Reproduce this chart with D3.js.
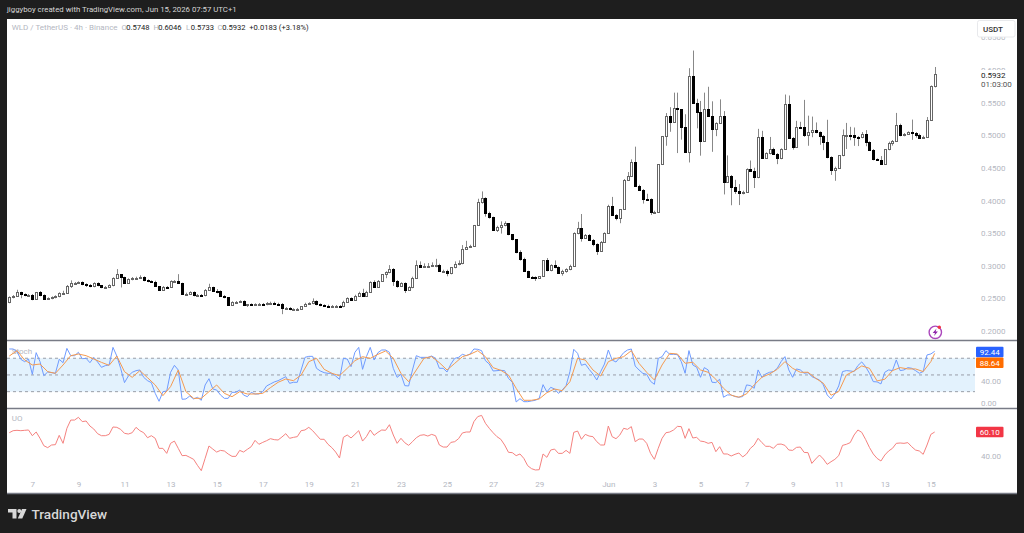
<!DOCTYPE html>
<html>
<head>
<meta charset="utf-8">
<script src="https://cdn.jsdelivr.net/npm/d3@7/dist/d3.min.js"></script>
<style>
html,body{margin:0;padding:0;background:#1e1e1e;overflow:hidden}
svg{display:block}
text{font-family:Roboto,"Liberation Sans",sans-serif}
</style>
</head>
<body>
<svg id="chart" width="1024" height="533"></svg>
<script>
// WLD / TetherUS, 4h candles: closes, with wick lengths counted in ticks of wickTick.
const firstOpen = 0.2440;
const wickTick = 0.0015;
const closes = [
.2516,.2536,.2602,.2562,.2547,.2552,.2486,.2598,.2547,.2495,
.2501,.2516,.2532,.2578,.2587,.2690,.2731,.2736,.2746,.2716,
.2705,.2685,.2731,.2700,.2670,.2674,.2700,.2808,.2874,.2832,
.2740,.2792,.2812,.2817,.2823,.2777,.2762,.2756,.2690,.2628,
.2674,.2670,.2762,.2766,.2740,.2567,.2572,.2593,.2547,.2552,
.2547,.2628,.2679,.2613,.2608,.2536,.2516,.2403,.2440,.2444,
.2455,.2398,.2409,.2398,.2409,.2414,.2409,.2429,.2434,.2418,
.2414,.2348,.2352,.2333,.2333,.2337,.2383,.2418,.2425,.2455,
.2409,.2394,.2388,.2379,.2383,.2383,.2379,.2449,.2501,.2475,
.2541,.2587,.2541,.2602,.2746,.2679,.2766,.2869,.2900,.2950,
.2766,.2694,.2731,.2628,.2670,.2817,.3007,.2985,.2992,.2996,
.3007,.3016,.2920,.2924,.2884,.2976,.3022,.3038,.3257,.3292,
.3307,.3625,.3982,.4034,.3813,.3752,.3548,.3598,.3620,.3651,
.3482,.3405,.3206,.3108,.2924,.2828,.2823,.2812,.2843,.3088,
.2930,.3007,.2976,.2893,.2924,.2946,.3001,.3497,.3583,.3430,
.3471,.3395,.3329,.3226,.3364,.3497,.3920,.3778,.3727,.3870,
.4314,.4376,.4585,.4227,.4161,.4028,.4018,.3824,.3828,.4559,
.4989,.5295,.5203,.5413,.5402,.5127,.4748,.5908,.5499,.5361,
.4912,.5398,.5295,.5091,.5183,.5295,.4288,.4376,.4212,.4146,
.4110,.4135,.4478,.4457,.4356,.4978,.4651,.4723,.4794,.4713,
.4647,.4785,.5474,.4958,.4825,.5131,.5122,.5004,.5045,.5076,
.5045,.4989,.4892,.4662,.4467,.4503,.4693,.4999,.5009,.4999,
.4973,.4969,.5019,.4892,.4774,.4631,.4621,.4559,.4785,.4886,
.4912,.5162,.4999,.5019,.5045,.5035,.5009,.4963,.4978,.5234,
.5748,.5932];
const upperWicks = [
1,1,2,0,1,1,1,0,1,1,
1,1,1,1,2,1,3,1,1,1,
1,1,1,1,0,1,1,1,5,0,
0,1,1,1,2,1,1,1,1,0,
1,1,1,1,7,0,1,1,1,1,
1,1,3,0,2,1,1,0,1,1,
1,1,0,1,1,1,1,1,1,1,
1,1,1,1,1,1,0,1,1,3,
1,1,1,1,1,1,1,1,1,1,
1,1,4,1,1,2,1,0,1,4,
1,1,1,1,1,1,5,4,3,3,
3,6,1,1,1,0,3,3,4,6,
1,0,3,7,1,1,0,1,4,2,
0,0,0,2,1,0,1,1,0,0,
2,1,5,1,1,1,1,1,6,14,
1,1,1,1,1,1,1,9,1,0,
1,4,3,16,1,1,5,1,1,0,
0,3,9,16,16,0,13,8,26,4,
11,17,23,15,1,17,5,21,1,7,
7,1,1,9,3,8,6,1,12,1,
1,1,10,9,1,6,5,28,17,14,
8,1,1,23,1,1,0,6,12,8,
8,1,2,4,1,1,1,4,0,1,
1,12,1,1,1,13,1,1,1,3,
1,7];
const lowerWicks = [
1,1,1,4,1,1,1,0,1,1,
1,1,1,1,1,1,2,1,1,1,
2,1,1,1,1,1,1,1,0,11,
1,1,1,2,1,1,1,1,1,1,
1,1,0,1,0,1,1,1,1,1,
1,1,1,1,2,1,1,1,1,1,
1,1,2,1,1,1,1,1,1,1,
1,6,1,1,1,1,1,1,1,1,
1,1,1,1,1,1,1,1,1,1,
1,1,0,1,0,1,1,1,4,1,
5,2,1,3,1,1,1,1,1,1,
1,2,1,1,3,1,1,1,1,1,
1,1,1,2,4,2,1,2,7,1,
1,1,1,2,1,1,1,3,0,1,
1,1,1,1,3,2,1,1,1,4,
1,1,2,4,0,0,0,1,2,5,
1,1,1,0,1,5,1,3,1,0,
1,10,10,0,45,13,0,11,0,17,
15,0,0,23,7,0,13,0,19,3,
12,1,0,0,11,1,1,1,1,1,
6,1,0,0,3,0,0,2,11,5,
1,9,8,1,5,11,0,1,14,5,
9,9,1,4,1,1,1,1,0,1,
3,1,1,1,1,7,3,1,1,1,
1,1];

// Stochastic %K on every candle, %D read on every second candle plus the latest one.
const stochK = [
96.6,96.6,91.8,78,73.8,78.6,51.1,90,73.8,48.7,
55.3,54.1,52.9,78,72,97.7,84.6,84.6,90.6,79.2,
79.8,72,81.6,73.2,63.7,66.7,67.9,99.5,84,61.9,
36.2,48.1,54.7,57.7,58.9,45.7,39.7,36.2,17,2.7,
20,21.2,54.7,67.3,58.9,6.3,6.9,12.2,6.9,9.8,
4.5,32,43.3,24.8,23,14,8,8,18.8,18.8,
23,14,11,18.8,15.8,15.8,20,30.2,33.8,37.4,
39.7,43.3,46.9,35,36.8,36.8,58.9,81.6,83.4,83.4,
61.9,57.1,54.1,52.9,52.9,48.1,42.1,79.8,78.6,64.9,
90.6,99.5,60.1,82.8,99.5,76.8,90,94.8,94.8,90.6,
61.9,45.7,51.1,30.8,30.2,58.9,84.6,81.6,81.6,81.6,
84,79.8,61.9,61.9,55.3,69.6,79.8,81.6,87,84.6,
87.6,96.6,96,93.6,75.6,69.6,57.1,57.7,58.3,57.7,
43.9,36.8,1.5,7.4,2,2,3.3,4.5,8,32.6,
19.4,27.8,24.8,17,23,30.8,55.9,96,88.8,67.3,
69.6,60.1,51.7,40.9,55.9,69.6,94.8,76.8,73.2,81.6,
90,94.8,96.6,66,58.9,52.9,51.1,38.5,33.2,79.8,
82.8,93.6,87,87,86.4,74,53,93.7,68,63.8,
45.8,63.2,59,36.9,36.3,42.3,10,14.1,14.1,11.2,
10,11.2,32.1,30.9,26.1,59,45.8,51.8,54.8,56,
62,74,82.9,59,45.8,60.8,59,53,54.2,47,
44,41,32.1,14.1,7,16,30.3,56,57.8,57.2,
56,66.8,73.4,65,53,38,37.5,33.9,54.8,59,
57.8,76.9,57.8,59,63.2,62,57.8,53,56,85.9,
87.7,92.44];
const stochD = [
84,93.6,76.8,67.9,69.6,55.9,52.9,67.9,84.6,87.6,
84.6,78.6,72.6,67.3,84,55.9,45.7,57.7,45.1,32,
12.8,29,58.9,20,8,8,20,32,17,11,
20,15.8,15.8,17,27.2,36.8,42.7,39.7,49.9,73.8,
79.8,60.1,52.9,48.7,
61.9,75.6,82.8,79.8,87,93,79.8,52.9,37.9,58.9,
79.8,82.8,72,58.9,70.8,82.8,87,93.6,82.8,63.1,
58.3,49.9,26,4.5,4.5,6.9,18.2,24.8,21.8,37.9,
79.8,76.8,58.9,48.1,73.8,79.8,82.8,93.6,70.8,54.7,
40.9,67.9,88.8,87.6,
71,72.8,59,54.8,42.3,26.1,13.6,10,16,32.1,
45.8,51.8,60.2,74,62,54.8,54.8,44,35.1,13.6,
20.1,50,57.2,66.2,62,39.3,42.3,57.8,63.2,60.8,
60.8,56,74,88.64];
const stochDIndex = d3.range(0, 241, 2).concat([241]);
const stochLevels = [80, 50, 20];

// Ultimate Oscillator on every candle.
const uoValues = [
59.5,61.2,61.5,61.2,61.5,61.8,57,60.1,54.8,48.6,
47,49.2,49.5,57.3,50.6,63.2,70.1,70.1,72.4,68.8,
69.3,65.1,62.6,58.7,57,57,58.1,64.3,64,62.3,
59,58.4,59.5,64,61.2,59.5,55.3,57,54.8,46.4,
46.4,42.2,50.6,52.5,46.4,40.3,40.5,38.9,37.2,32.2,
27.7,38,48.4,45.8,43.3,44.7,44.2,41.7,39.7,39.7,
44.7,43.3,45.6,47.8,53.1,49.8,51.4,52.8,54.5,53.7,
53.4,55.9,58.7,54.8,55.6,56.2,61.2,61.8,64,61.2,
57.6,54,54,49.8,47,43.3,38.3,55.6,57.6,55.1,
58.1,61.2,52.5,56.2,61.8,57.3,59.8,61.8,61.5,66.2,
57.6,50.6,54.8,51.1,48.9,52,55.3,57.3,57.8,56.7,
58.1,57,49.2,47.5,47.5,51.4,52,54.5,59.3,60.1,
60.1,68.8,73,74,67.4,63.2,59.5,56.2,54,49.2,
43.1,42.8,40.3,41.7,38,31.9,29.4,28.3,28.5,41.7,
38.9,45,45.8,42.2,42.2,44.7,42.2,59.8,60.9,54,
58.1,56.7,56.2,52,49.2,49.2,65.1,56.2,54.5,57.6,
63.2,62.3,64.6,52,54.2,54.2,50.6,42.2,37.2,46.4,
54.8,59.5,60.1,61.8,64.8,64.6,54.8,62.9,55.1,55.6,
52.5,52,50.6,51.4,43.6,47.8,41.7,41.7,40,41.4,
42.5,39.2,41.7,46.4,49.2,54.8,51.2,48.1,48.1,46.4,
49.8,50,48.9,45,44.7,47.2,47.5,43,42.8,33.8,
37.5,40.8,37.5,33,35.2,37.2,40.3,48.9,49.8,51.2,
57.6,61.8,59.8,53.9,47.2,41.7,38,35.8,40.8,44.2,
46.4,50.6,50.9,50.6,51.2,47.8,45,44.2,41.4,49.2,
58.1,60.1];

// Axis ticks: a date label every second day, and round price levels.
const dateTicks = [6,18,30,42,54,66,78,90,102,114,126,138,156,168,180,192,204,216,228,240];
const dateLabels = ["7","9","11","13","15","17","19","21","23","25","27","29","Jun","3","5","7","9","11","13","15"];
const priceTicks = [0.2,0.25,0.3,0.35,0.4,0.45,0.5,0.55,0.6,0.65];
const legendValues = [["O","0.5748",121.5],["H","0.6046",153.5],["L","0.5733",186],["C","0.5932",217.5]];

const svg = d3.select("#chart");
const gridL = 7, gridR = 1017, plotTop = 19, paneMain = 340, paneStoch = 408, plotBottom = 493;
const plotR = 975;

const x = d3.scaleLinear().domain([0, 241]).range([9.3, 934.7]);
const yPrice = d3.scaleLinear().domain([0.2, 0.6]).range([331, 70]);
const yStoch = d3.scaleLinear().domain([0, 100]).range([402.8, 347.1]);
const yUO = d3.scaleLinear().domain([40, 60.1]).range([456, 432]);

svg.append("rect").attr("x", gridL).attr("y", plotTop).attr("width", gridR - gridL).attr("height", plotBottom - plotTop).attr("fill", "#fff");

const defs = svg.append("defs");
defs.append("clipPath").attr("id", "plot").append("rect").attr("x", gridL).attr("y", plotTop).attr("width", plotR - gridL).attr("height", plotBottom - plotTop);

// Candlesticks
const opens = closes.map((c, i) => i ? closes[i - 1] : firstOpen);
const candles = closes.map((close, i) => {
  const open = opens[i];
  const high = i === 241 ? 0.6046 : Math.max(open, close) + upperWicks[i] * wickTick;
  const low = i === 241 ? 0.5733 : Math.min(open, close) - lowerWicks[i] * wickTick;
  return {i, open, close, high, low};
});
const gc = svg.append("g").attr("clip-path", "url(#plot)");
gc.selectAll("line.wick").data(candles).join("line").attr("class", "wick")
  .attr("x1", d => Math.round(x(d.i)) + 0.5).attr("x2", d => Math.round(x(d.i)) + 0.5)
  .attr("y1", d => yPrice(d.high)).attr("y2", d => yPrice(d.low))
  .attr("stroke", "#888").attr("stroke-width", 1);
gc.selectAll("rect.body").data(candles).join("rect").attr("class", "body")
  .attr("x", d => Math.round(x(d.i)) - 0.5)
  .attr("width", 2)
  .attr("y", d => Math.round(yPrice(Math.max(d.open, d.close))) + 0.5)
  .attr("height", d => Math.max(1, Math.round(yPrice(Math.min(d.open, d.close))) - Math.round(yPrice(Math.max(d.open, d.close)))))
  .attr("fill", d => d.close >= d.open ? "#fff" : "#000")
  .attr("stroke", d => d.close >= d.open ? "#666" : "#000").attr("stroke-width", 1);

// Lightning badge beside the latest candles
const badge = svg.append("g").attr("transform", "translate(935.3,332.3)");
badge.append("circle").attr("r", 6.2).attr("fill", "#fff").attr("stroke", "#ab47bc").attr("stroke-width", 1.4);
badge.append("path").attr("d", "M1.2,-3.8L-2.6,0.7H-0.3L-1.2,3.8L2.6,-0.9H0.3Z").attr("fill", "#8e24aa");
badge.append("circle").attr("cx", 4).attr("cy", -5).attr("r", 1.7).attr("fill", "#f23645");

// Stochastic pane
svg.append("rect").attr("x", gridL).attr("width", plotR - gridL)
  .attr("y", yStoch(80)).attr("height", yStoch(20) - yStoch(80)).attr("fill", "#e3f2fd");
svg.selectAll("line.level").data(stochLevels).join("line").attr("class", "level")
  .attr("x1", gridL).attr("x2", plotR).attr("y1", d => yStoch(d)).attr("y2", d => yStoch(d))
  .attr("stroke", "#9a9ea8").attr("stroke-dasharray", "3 3");
const lineK = d3.line().x((d, i) => x(i)).y(d => yStoch(d));
const lineD = d3.line().x((d, i) => x(stochDIndex[i])).y(d => yStoch(d));
const lineU = d3.line().x((d, i) => x(i)).y(d => yUO(d));
svg.append("text").attr("x", 11.7).attr("y", 353.7).attr("font-size", 8).attr("fill", "#b4b7bf").text("Stoch");
svg.append("path").datum(stochK).attr("d", lineK).attr("fill", "none").attr("stroke", "#6f9bff").attr("stroke-width", 1);
svg.append("path").datum(stochD).attr("d", lineD).attr("fill", "none").attr("stroke", "#f59a50").attr("stroke-width", 1);

// Ultimate Oscillator pane
svg.append("path").datum(uoValues).attr("d", lineU).attr("fill", "none").attr("stroke", "#f5827f").attr("stroke-width", 1);
svg.append("text").attr("x", 11.7).attr("y", 421).attr("font-size", 8).attr("fill", "#b4b7bf").text("UO");

// Pane separators and frame
svg.selectAll("line.sep").data([paneMain, paneStoch, plotBottom]).join("line").attr("class", "sep")
  .attr("x1", gridL).attr("x2", gridR).attr("y1", d => d + 0.5).attr("y2", d => d + 0.5)
  .attr("stroke", "#787b86").attr("stroke-width", 1.4);

// Date axis
const axisCol = "#b4b7bf";
const xAxis = d3.axisBottom(x).tickValues(dateTicks).tickSize(0).tickPadding(0)
  .tickFormat(d => dateLabels[dateTicks.indexOf(d)]);
const gx = svg.append("g").attr("transform", "translate(0,481)").call(xAxis);
gx.select(".domain").remove();
gx.selectAll("text").attr("fill", axisCol).attr("font-size", 8).attr("font-family", "Roboto,sans-serif");

// Price axis
const yAxis = d3.axisRight(yPrice).tickValues(priceTicks).tickSize(0).tickPadding(0).tickFormat(d3.format(".4f"));
const gy = svg.append("g").attr("transform", "translate(981,0)").call(yAxis);
gy.select(".domain").remove();
gy.selectAll("text").attr("fill", axisCol).attr("font-size", 8).attr("font-family", "Roboto,sans-serif");

// Last price and countdown sit over the neighbouring tick
svg.append("rect").attr("x", 976).attr("y", 70).attr("width", 40).attr("height", 20).attr("fill", "#fff");
svg.append("text").attr("x", 981).attr("y", 78).attr("font-size", 8).attr("fill", "#222").text("0.5932");
svg.append("text").attr("x", 981).attr("y", 87).attr("font-size", 8).attr("fill", "#555").text("01:03:00");

// Currency button
svg.append("rect").attr("x", 977.5).attr("y", 20.5).attr("width", 37.5).attr("height", 16.5).attr("rx", 2).attr("fill", "#fff").attr("stroke", "#e8e9ec");
svg.append("text").attr("x", 983).attr("y", 31.5).attr("font-size", 8).attr("font-weight", 500).attr("fill", "#333").text("USDT");

// Oscillator axis labels
[[yStoch(40), "40.00"], [yStoch(0), "0.00"], [yUO(40), "40.00"]].forEach(([py, t]) => {
  svg.append("text").attr("x", 981).attr("y", py + 3).attr("font-size", 8).attr("fill", axisCol).text(t);
});
[[352, "92.44", "#2962ff"], [362.7, "88.64", "#ff6d00"], [yUO(60.1), "60.10", "#f23645"]].forEach(([py, t, c]) => {
  svg.append("rect").attr("x", 976).attr("y", py - 5.2).attr("width", 27.5).attr("height", 10.4).attr("rx", 1).attr("fill", c);
  svg.append("text").attr("x", 989.7).attr("y", py + 2.9).attr("text-anchor", "middle").attr("font-size", 8).attr("fill", "#fff").text(t);
});

// Header line
svg.append("text").attr("x", 7).attr("y", 12).attr("font-size", 7.8).attr("fill", "#d6d6d6")
  .text("jiggyboy created with TradingView.com, Jun 15, 2026 07:57 UTC+1");

// Legend
svg.append("text").attr("x", 11.7).attr("y", 29.5).attr("font-size", 8).attr("fill", "#b4b7bf").text("WLD / TetherUS · 4h · Binance");
legendValues.forEach(([k, v, px]) => {
  svg.append("text").attr("x", px).attr("y", 29.5).attr("font-size", 7.6).attr("fill", "#b4b7bf").text(k);
  svg.append("text").attr("x", px + 4.7).attr("y", 29.5).attr("font-size", 7.6).attr("fill", "#222").text(v);
});
svg.append("text").attr("x", 249.3).attr("y", 29.5).attr("font-size", 7.6).attr("fill", "#222").text("+0.0183 (+3.18%)");

// Wordmark in the footer
const logo = svg.append("g").attr("fill", "#d8d8d8");
logo.append("path").attr("d", "M8,509H16.5V518.5H12.5V512.5H8Z");
logo.append("circle").attr("cx", 19.3).attr("cy", 511).attr("r", 2);
logo.append("path").attr("d", "M22,509H26.5L22.3,518.5H17.8Z");
svg.append("text").attr("x", 31.5).attr("y", 519).attr("font-size", 13.6).attr("font-weight", 500).attr("fill", "#d8d8d8").text("TradingView");
</script>
</body>
</html>
